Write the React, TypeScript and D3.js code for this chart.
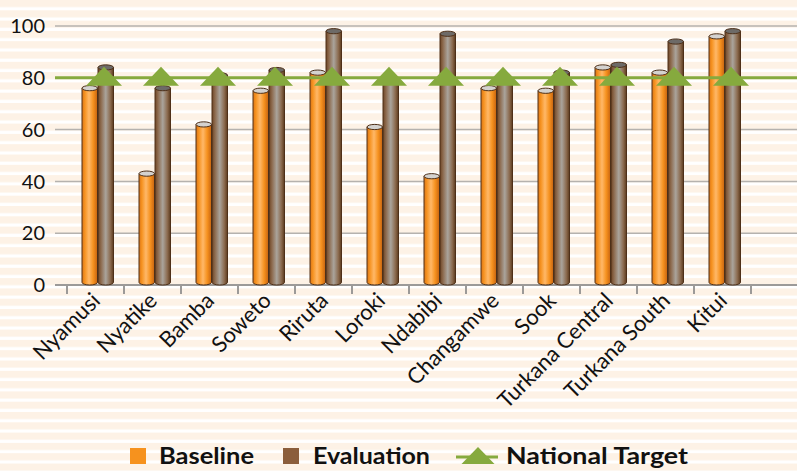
import React from "react";
import * as d3 from "d3";

const categories = ["Nyamusi", "Nyatike", "Bamba", "Soweto", "Riruta", "Loroki", "Ndabibi", "Changamwe", "Sook", "Turkana Central", "Turkana South", "Kitui"];
const baseline = [76, 43, 62, 75, 82, 61, 42, 76, 75, 84, 82, 96];
const evaluation = [84, 76, 81, 83, 98, 80, 97, 79, 82, 85, 94, 98];
const nationalTarget = [80, 80, 80, 80, 80, 80, 80, 80, 80, 80, 80, 80];
const yTicks = [0, 20, 40, 60, 80, 100];
const legendLabels = ["Baseline", "Evaluation", "National Target"];

const W = 797;
const H = 471;
const FONT = "Lato, 'Open Sans', sans-serif";

export default function App() {
  const x = d3.scaleBand<string>().domain(categories).range([67, 67 + 57 * 12]).paddingInner(0).paddingOuter(0);
  const y = d3.scaleLinear().domain([0, 100]).range([285, 26]);
  const bw = x.bandwidth();
  const barW = 15.5;
  const ry = 2.6;
  const stripeH = 10.3;
  const y0 = y(0);

  const cyl = (bx: number, v: number, grad: string, topFill: string, key: string) => {
    const top = y(v);
    const path = `M${bx},${top} L${bx},${y0 - ry} A${barW / 2},${ry} 0 0 0 ${bx + barW},${y0 - ry} L${bx + barW},${top} Z`;
    return (
      <g key={key}>
        <path d={path} fill={`url(#${grad})`} stroke="#4e3019" strokeWidth={1} />
        <ellipse cx={bx + barW / 2} cy={top} rx={barW / 2} ry={ry} fill={topFill} stroke="#4e3019" strokeWidth={1} />
      </g>
    );
  };

  const tri = (cx: number, cy: number, key: string, w = 36, hUp = 11, hDown = 8) => (
    <path key={key} d={`M${cx - w / 2},${cy + hDown} L${cx},${cy - hUp} L${cx + w / 2},${cy + hDown} Z`} fill="#86aa3e" />
  );

  return (
    <svg width={W} height={H} style={{ position: "absolute", left: 0, top: 0, background: "#fff" }} fontFamily={FONT}>
      <defs>
        <pattern id="stripes" patternUnits="userSpaceOnUse" width={W} height={stripeH} y={0}>
          <rect width={W} height={stripeH} fill="#fdf2e6" />
          <rect y={stripeH - 3.2} width={W} height={3.2} fill="#ffffff" />
        </pattern>
        <linearGradient id="gBase" x1="0" x2="1" y1="0" y2="0">
          <stop offset="0" stopColor="#d8741a" />
          <stop offset="0.18" stopColor="#f6921f" />
          <stop offset="0.45" stopColor="#ffb868" />
          <stop offset="0.72" stopColor="#f6921f" />
          <stop offset="1" stopColor="#c7630f" />
        </linearGradient>
        <linearGradient id="gEval" x1="0" x2="1" y1="0" y2="0">
          <stop offset="0" stopColor="#6e4525" />
          <stop offset="0.2" stopColor="#8e6c50" />
          <stop offset="0.5" stopColor="#aaa49c" />
          <stop offset="0.8" stopColor="#8b6a4e" />
          <stop offset="1" stopColor="#5c3a1d" />
        </linearGradient>
      </defs>
      <rect width={W} height={H} fill="url(#stripes)" />

      {/* gridlines */}
      {yTicks.filter((t) => t > 0).map((t) => (
        <line key={`g${t}`} x1={55} x2={W} y1={y(t)} y2={y(t)} stroke="#b5b2ae" strokeWidth={1.5} />
      ))}
      {/* y tick labels */}
      {yTicks.map((t) => (
        <text key={`yl${t}`} x={45} y={y(t)} dy="0.36em" textAnchor="end" fontSize={20} fill="#111">{t}</text>
      ))}

      {/* x axis */}
      <line x1={55} x2={W} y1={y0} y2={y0} stroke="#9c9a98" strokeWidth={2.2} />
      {d3.range(13).map((i) => (
        <line key={`t${i}`} x1={67 + 57 * i} x2={67 + 57 * i} y1={y0} y2={y0 + 9} stroke="#9c9a98" strokeWidth={2} />
      ))}

      {/* bars */}
      {categories.map((c, i) => {
        const bx = x(c)!;
        return (
          <g key={c}>
            {cyl(bx + 15, baseline[i], "gBase", "#d4d2cf", `b${i}`)}
            {cyl(bx + 31, evaluation[i], "gEval", "#6d6a67", `e${i}`)}
          </g>
        );
      })}

      {/* national target line */}
      <line x1={55} x2={W} y1={y(80)} y2={y(80)} stroke="#86aa3e" strokeWidth={3} />
      {categories.map((c, i) => tri(x(c)! + 37, y(nationalTarget[i]), `tr${i}`))}

      {/* x labels */}
      {categories.map((c) => {
        const ax = x(c)! + bw / 2 + 6;
        const ay = 302;
        return (
          <text key={`xl${c}`} x={ax} y={ay} textAnchor="end" fontSize={22} fill="#111" transform={`rotate(-45 ${ax} ${ay})`}>{c}</text>
        );
      })}

      {/* legend */}
      <g fontWeight="bold" fontSize={22} fill="#111">
        <rect x={130} y={448} width={16} height={16} fill="#f6921e" />
        <text x={159} y={464} textLength={95} lengthAdjust="spacingAndGlyphs">{legendLabels[0]}</text>
        <rect x={283} y={448} width={16} height={16} fill="#8b5e3c" />
        <text x={313} y={464} textLength={117} lengthAdjust="spacingAndGlyphs">{legendLabels[1]}</text>
        <line x1={456} x2={498} y1={457} y2={457} stroke="#86aa3e" strokeWidth={3} />
        {tri(478, 457, "legtri", 33, 10, 7)}
        <text x={506} y={464} textLength={182} lengthAdjust="spacingAndGlyphs">{legendLabels[2]}</text>
      </g>
    </svg>
  );
}
